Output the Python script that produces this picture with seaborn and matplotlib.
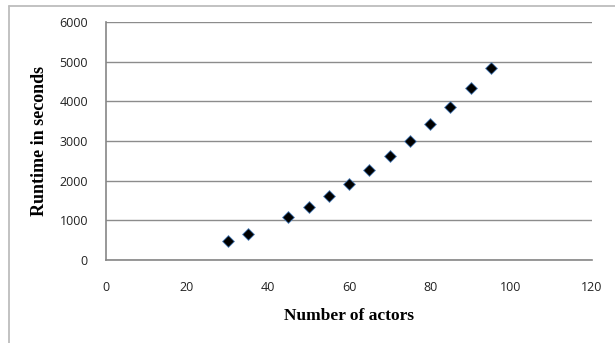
import matplotlib
matplotlib.use("Agg")
import matplotlib.pyplot as plt
import seaborn as sns
import pandas as pd
from matplotlib.lines import Line2D

actors = [30, 35, 45, 50, 55, 60, 65, 70, 75, 80, 85, 90, 95]
runtime = [490, 660, 1090, 1340, 1620, 1920, 2260, 2620, 3010, 3420, 3860, 4330, 4830]
x_ticks = [0, 20, 40, 60, 80, 100, 120]
y_ticks = [0, 1000, 2000, 3000, 4000, 5000, 6000]

df = pd.DataFrame({"actors": actors, "runtime": runtime})

sns.set_theme(style="white")
plt.rcParams['font.family'] = ['Open Sans', 'DejaVu Sans']

fig = plt.figure(figsize=(6.15, 3.43), dpi=100)
ax = fig.add_axes([106/615, 1-260/343, (592-106)/615, (260-22)/343])

sns.scatterplot(data=df, x="actors", y="runtime", ax=ax, marker="D", s=36,
                color="black", edgecolor="#4f81bd", linewidth=0.6, zorder=3)

ax.set_xlim(0, 120)
ax.set_ylim(0, 6000)
ax.set_xticks(x_ticks)
ax.set_yticks(y_ticks)
ax.tick_params(axis="both", length=0, labelsize=9, colors="#222222", pad=13)
ax.tick_params(axis="x", pad=15)
ax.grid(axis="y", color="#8c8c8c", linewidth=1.0)
ax.set_axisbelow(True)
for s in ["top", "right"]:
    ax.spines[s].set_visible(False)
for s in ["left", "bottom"]:
    ax.spines[s].set_color("#868686")
    ax.spines[s].set_linewidth(1.2)

ax.set_xlabel("Number of actors", fontfamily="Liberation Serif", fontweight="bold",
              fontsize=12.5, color="black", labelpad=10)
ax.set_ylabel("Runtime in seconds", fontfamily="Liberation Serif", fontweight="bold",
              fontsize=13, color="black", labelpad=8)

bx = 8.5 / 615
by = 1 - 5.5 / 343
fig.add_artist(Line2D([bx, bx], [0, by], transform=fig.transFigure,
                      color="#bdbdbd", linewidth=1.3))
fig.add_artist(Line2D([bx, 1], [by, by], transform=fig.transFigure,
                      color="#bdbdbd", linewidth=1.3))

fig.savefig("out.png", dpi=100)
